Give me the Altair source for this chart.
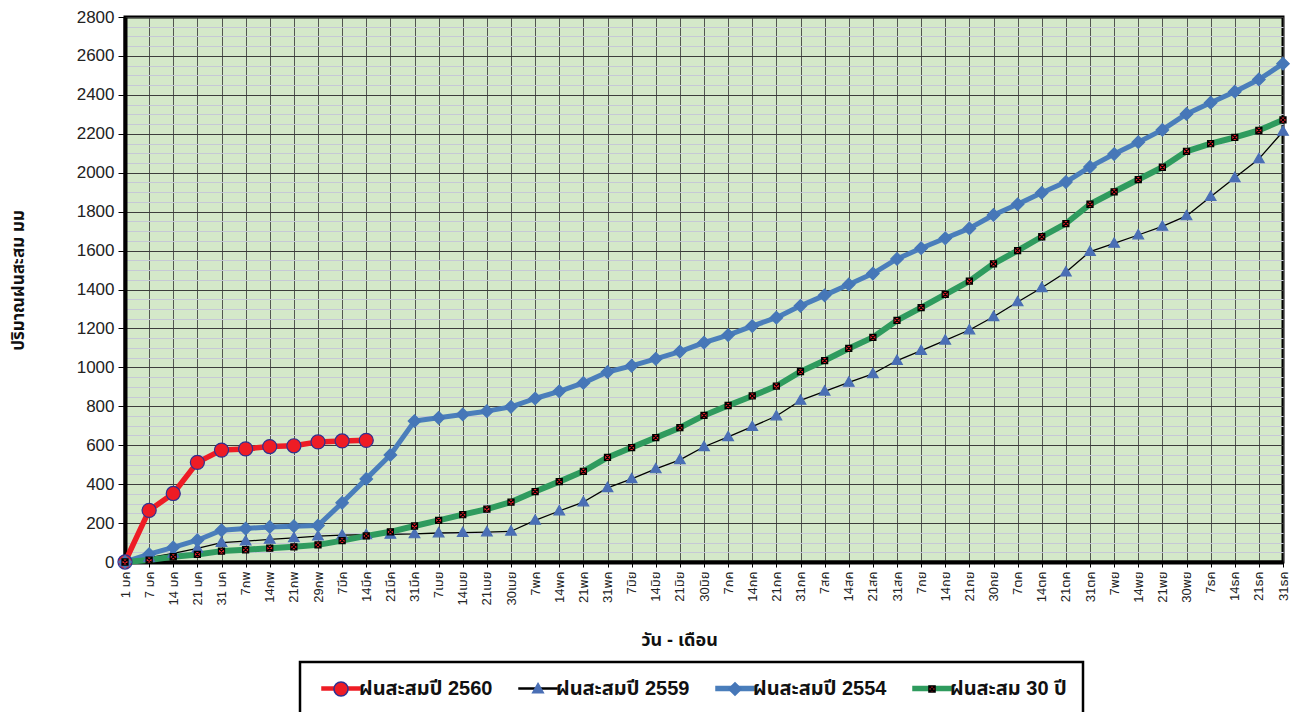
import altair as alt
import pandas as pd

dates = ["1 มค", "7 มค", "14 มค", "21 มค", "31 มค", "7กพ", "14กพ", "21กพ", "29กพ",
         "7มีค", "14มีค", "21มีค", "31มีค", "7เมย", "14เมย", "21เมย", "30เมย",
         "7พค", "14พค", "21พค", "31พค", "7มิย", "14มิย", "21มิย", "30มิย",
         "7กค", "14กค", "21กค", "31กค", "7สค", "14สค", "21สค", "31สค",
         "7กย", "14กย", "21กย", "30กย", "7ตค", "14ตค", "21ตค", "31ตค",
         "7พย", "14พย", "21พย", "30พย", "7ธค", "14ธค", "21ธค", "31ธค"]

series_names = ["ฝนสะสมปี 2560", "ฝนสะสมปี 2559", "ฝนสะสมปี 2554", "ฝนสะสม 30 ปี"]

rain_2560 = [0, 265, 352, 512, 575, 581, 593, 597, 617, 622, 625]
rain_2559 = [0, 22, 44, 70, 100, 107, 116, 124, 133, 138, 140, 142, 144, 149, 151, 154, 158,
             214, 262, 308, 381, 427, 478, 525, 592, 643, 695, 750, 830, 877, 923, 967,
             1035, 1086, 1139, 1192, 1260, 1336, 1409, 1489, 1595, 1637, 1680, 1724, 1778,
             1877, 1974, 2071, 2212]
rain_2554 = [0, 40, 75, 112, 163, 172, 180, 184, 187, 304, 427, 550, 724, 741, 758, 775, 797,
             840, 877, 920, 976, 1008, 1044, 1081, 1127, 1166, 1212, 1255, 1316, 1370, 1426,
             1482, 1557, 1612, 1663, 1714, 1783, 1838, 1897, 1952, 2030, 2096, 2157, 2220,
             2302, 2360, 2416, 2479, 2560]
rain_30y = [0, 10, 27, 39, 56, 63, 71, 78, 88, 110, 134, 155, 185, 214, 243, 272, 308, 362,
            413, 466, 537, 588, 639, 690, 753, 804, 853, 904, 978, 1035, 1097, 1154, 1241,
            1307, 1375, 1443, 1532, 1600, 1671, 1739, 1838, 1902, 1965, 2028, 2110, 2149,
            2181, 2218, 2271]

all_series = [rain_2560, rain_2559, rain_2554, rain_30y]
rows = []
for name, vals in zip(series_names, all_series):
    for d, v in zip(dates, vals):
        rows.append({"date": d, "value": v, "series": name})
df = pd.DataFrame(rows)

FONT = "Liberation Sans, Arial, Noto Sans Thai, Tahoma, sans-serif"

# styles
line_colors = ["#ee1c25", "#000000", "#4a7ebb", "#2f9b5e"]
line_widths = [5.5, 1.3, 5, 6]
marker_fill = ["#ee1c25", "#4a6fb5", "#4677b8", "#e8202a"]
marker_stroke = ["#2e3192", "#4a6fb5", "#4677b8", "#000000"]
EXT = "M-1.9,0L-1.9,0M1.9,0L1.9,0"
marker_paths = [
    EXT + "M-0.703,0A0.703,0.703 0 1,1 0.703,0A0.703,0.703 0 1,1 -0.703,0Z",
    EXT + "M0,-0.551L0.532,0.38L-0.532,0.38Z",
    EXT + "M0,-0.627L0.627,0L0,0.627L-0.627,0Z",
    EXT + "M-0.304,-0.304L0.304,-0.304L0.304,0.304L-0.304,0.304Z"
          "M-0.304,-0.304L0.304,0.304M0.304,-0.304L-0.304,0.304",
]
legend_line_paths = [
    "M-1.9,-0.14L1.9,-0.14L1.9,0.14L-1.9,0.14Z",
    "M-1.9,-0.038L1.9,-0.038L1.9,0.038L-1.9,0.038Z",
    "M-1.9,-0.19L1.9,-0.19L1.9,0.19L-1.9,0.19Z",
    "M-1.9,-0.19L1.9,-0.19L1.9,0.19L-1.9,0.19Z",
]

minor_vals = [v for v in range(50, 2800, 50) if v % 200]

x_axis = alt.Axis(title="วัน - เดือน", titleFont=FONT, titleFontSize=18, titleFontWeight="bold",
                  titleColor="#111", titleX=554, titleY=78, titleAlign="center", titleBaseline="middle",
                  labelAngle=270, labelFont=FONT, labelFontSize=13, labelColor="#222", labelPadding=4,
                  grid=True, gridColor="#3c3c3c", gridWidth=1, gridOpacity=0.85,
                  ticks=True, tickSize=5, tickColor="black", domainColor="black", domainWidth=4)
x_enc = alt.X("date:O", sort=dates, scale=alt.Scale(type="point", padding=0), axis=x_axis)

y_scale = alt.Scale(domain=[0, 2800], nice=False)
y_axis_main = alt.Axis(title="ปริมาณฝนสะสม มม", titleFont=FONT, titleFontSize=17, titleFontWeight="bold",
                       titleColor="#111", titleX=-107, titleY=263, titleAngle=270, titleAlign="center",
                       titleBaseline="middle", values=list(range(0, 2801, 200)), format="d",
                       labelFont=FONT, labelFontSize=17, labelColor="#222", labelPadding=4,
                       grid=True, gridColor="#3c3c3c", gridWidth=1,
                       tickSize=7, tickColor="black", domainColor="black", domainWidth=4)
y_axis_minor = alt.Axis(orient="right", values=minor_vals, grid=True, gridColor="#c6c8d6",
                        gridWidth=1, labels=False, ticks=False, domain=False, title=None)

lines = []
for name, c, w in zip(series_names, line_colors, line_widths):
    lines.append(
        alt.Chart(df).transform_filter(alt.datum.series == name)
        .mark_line(color=c, strokeWidth=w, strokeJoin="round")
        .encode(x=x_enc, y=alt.Y("value:Q", scale=y_scale, axis=y_axis_main))
    )
lines_group = alt.layer(*lines)

common_legend = dict(title=None, orient="none", legendX=175, legendY=645, direction="horizontal",
                     columns=4, symbolSize=400, symbolOffset=14.5, labelFont=FONT, labelFontSize=20,
                     labelFontWeight="bold", labelColor="#111", labelOffset=7, labelLimit=400,
                     padding=15.5, columnPadding=20, gridAlign="all")
legend_a = alt.Legend(strokeColor="black", **common_legend)
legend_b = alt.Legend(labelOpacity=0, **common_legend)

legend_layer = (
    alt.Chart(df).transform_filter("false")
    .mark_point(filled=True, size=400, strokeWidth=1.2, opacity=1)
    .encode(
        x=x_enc,
        y=alt.Y("value:Q", scale=y_scale, axis=None),
        fill=alt.Fill("series:N", scale=alt.Scale(domain=series_names, range=line_colors), legend=legend_a),
        stroke=alt.Stroke("series:N", scale=alt.Scale(domain=series_names, range=line_colors), legend=legend_a),
        shape=alt.Shape("series:N", scale=alt.Scale(domain=series_names, range=legend_line_paths), legend=legend_a),
    )
)

points = (
    alt.Chart(df)
    .mark_point(filled=True, size=400, strokeWidth=1.2, opacity=1)
    .encode(
        x=x_enc,
        y=alt.Y("value:Q", scale=y_scale, axis=y_axis_minor),
        fill=alt.Fill("series:N", scale=alt.Scale(domain=series_names, range=marker_fill), legend=legend_b),
        stroke=alt.Stroke("series:N", scale=alt.Scale(domain=series_names, range=marker_stroke), legend=legend_b),
        shape=alt.Shape("series:N", scale=alt.Scale(domain=series_names, range=marker_paths), legend=legend_b),
    )
)

chart = (
    alt.layer(lines_group, legend_layer, points)
    .resolve_scale(fill="independent", stroke="independent", shape="independent")
    .resolve_axis(y="independent")
    .properties(width=1158, height=545, autosize=alt.AutoSizeParams(type="none"),
                padding={"left": 117, "top": 9, "right": 13, "bottom": 150},
                background="white")
    .configure_view(stroke="black", strokeWidth=3, fill="#d4e8c9")
    .configure_legend(strokeWidth=2.5)
)

chart.save("out.html", embed_options={"renderer": "svg", "actions": False})
